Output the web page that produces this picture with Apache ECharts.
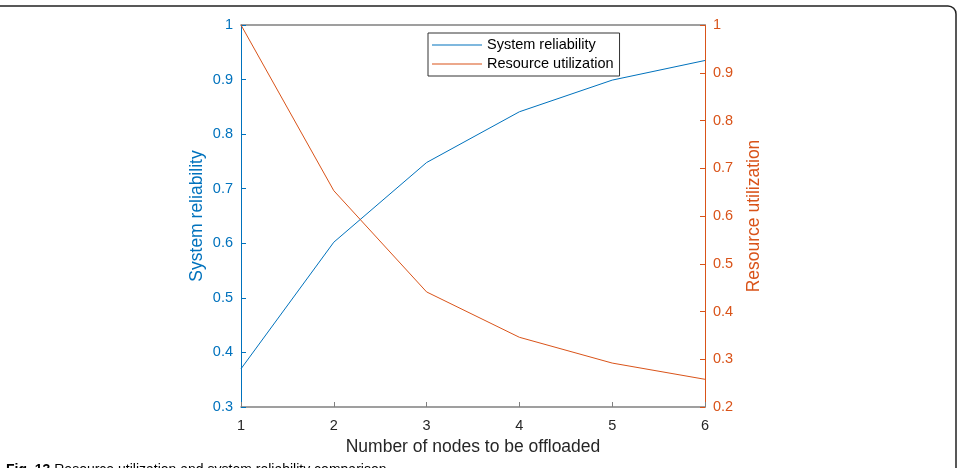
<!DOCTYPE html>
<html>
<head>
<meta charset="utf-8">
<script src="https://cdn.jsdelivr.net/npm/echarts@6/dist/echarts.min.js"></script>
<style>
html,body{margin:0;padding:0;background:#fff;}
#chart{width:960px;height:468px;}
</style>
</head>
<body>
<div id="chart"></div>
<script>
const nodes = [1, 2, 3, 4, 5, 6];
const systemReliability = [0.370, 0.602, 0.748, 0.841, 0.899, 0.935];
const resourceUtilization = [1.000, 0.653, 0.441, 0.346, 0.292, 0.258];
const leftTicks = { min: 0.3, max: 1, interval: 0.1 };
const rightTicks = { min: 0.2, max: 1, interval: 0.1 };

const blue = '#0072BD';
const orange = '#D95319';
const font = 'Liberation Sans, Arial, Helvetica, sans-serif';
const fmt = v => String(+v.toFixed(1));

const chart = echarts.init(document.getElementById('chart'));
chart.setOption({
  animation: false,
  backgroundColor: '#fff',
  textStyle: { fontFamily: font },
  grid: { left: 241, right: 255, top: 25, bottom: 61 },
  legend: {
    left: 428, top: 33,
    orient: 'vertical',
    icon: 'path://M0,0H50V1H0Z',
    itemWidth: 50, itemHeight: 1, itemGap: 3,
    padding: [4, 6, 4, 4],
    borderColor: '#333', borderWidth: 1, backgroundColor: '#fff',
    textStyle: { fontSize: 14.5, color: '#000', fontFamily: font, padding: [0, 0, 0, 0], lineHeight: 16 },
    data: ['System reliability', 'Resource utilization']
  },
  xAxis: [{
    type: 'value', min: 1, max: 6, interval: 1,
    name: 'Number of nodes to be offloaded', nameLocation: 'middle', nameGap: 31,
    nameTextStyle: { fontSize: 17.5, color: '#262626', fontFamily: font },
    axisLine: { lineStyle: { color: '#808080', width: 1.5 } },
    axisTick: { inside: true, length: 5, lineStyle: { color: '#808080' } },
    axisLabel: { fontSize: 14.5, color: '#262626', margin: 11, fontFamily: font },
    splitLine: { show: false }
  }, {
    type: 'value', min: 1, max: 6, interval: 1, position: 'top',
    axisLine: { lineStyle: { color: '#808080', width: 1.5 } },
    axisTick: { show: false }, axisLabel: { show: false }, splitLine: { show: false }
  }],
  yAxis: [{
    type: 'value', position: 'left', min: leftTicks.min, max: leftTicks.max, interval: leftTicks.interval,
    name: 'System reliability', nameLocation: 'middle', nameGap: 35, nameRotate: 90,
    nameTextStyle: { fontSize: 17.5, color: blue, fontFamily: font },
    axisLine: { show: true, lineStyle: { color: blue, width: 1 } },
    axisTick: { show: true, inside: true, length: 5, lineStyle: { color: blue } },
    axisLabel: { fontSize: 14.5, color: blue, formatter: fmt, margin: 8, fontFamily: font },
    splitLine: { show: false }
  }, {
    type: 'value', position: 'right', min: rightTicks.min, max: rightTicks.max, interval: rightTicks.interval,
    name: 'Resource utilization', nameLocation: 'middle', nameGap: 40, nameRotate: 90,
    nameTextStyle: { fontSize: 17.5, color: orange, fontFamily: font },
    axisLine: { show: true, lineStyle: { color: orange, width: 1 } },
    axisTick: { show: true, inside: true, length: 5, lineStyle: { color: orange } },
    axisLabel: { fontSize: 14.5, color: orange, formatter: fmt, margin: 8, fontFamily: font },
    splitLine: { show: false }
  }],
  series: [{
    name: 'System reliability', type: 'line', yAxisIndex: 0,
    symbol: 'none', color: blue, lineStyle: { width: 1, color: blue },
    data: nodes.map((x, i) => [x, systemReliability[i]])
  }, {
    name: 'Resource utilization', type: 'line', yAxisIndex: 1,
    symbol: 'none', color: orange, lineStyle: { width: 1, color: orange },
    data: nodes.map((x, i) => [x, resourceUtilization[i]])
  }],
  graphic: [{
    type: 'rect', silent: true,
    shape: { x: -20, y: 6, width: 976, height: 520, r: 8 },
    style: { fill: 'none', stroke: '#222', lineWidth: 1.5 }
  }, {
    type: 'text', left: 6, top: 463, silent: true,
    style: {
      text: '{b|Fig. 13} Resource utilization and system reliability comparison',
      rich: { b: { fontWeight: 'bold', fontSize: 14, fontFamily: font, fill: '#000' } },
      fontSize: 14, fontFamily: font, fill: '#000'
    }
  }]
});
</script>
</body>
</html>
